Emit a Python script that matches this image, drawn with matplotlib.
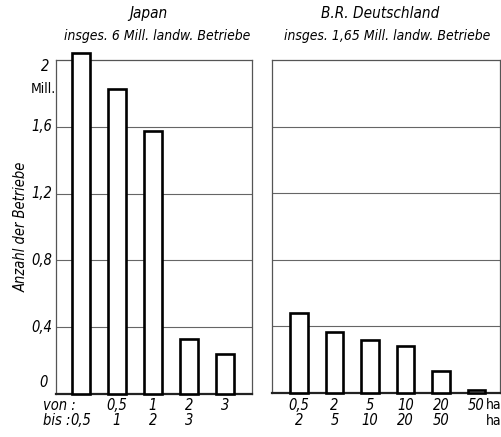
import matplotlib
matplotlib.use("Agg")
import matplotlib.pyplot as plt
from matplotlib.transforms import blended_transform_factory

plt.rcParams['font.family'] = ['DejaVu Sans']
plt.rcParams['font.style'] = 'italic'
plt.rcParams['font.stretch'] = 'condensed'

# size classes (ha) and number of farms (Mill.)
jp_von = ["", "0,5", "1", "2", "3"]
jp_bis = ["0,5", "1", "2", "3", ""]
jp_values = [2.04, 1.83, 1.575, 0.33, 0.24]

de_von = ["0,5", "2", "5", "10", "20", "50"]
de_bis = ["2", "5", "10", "20", "50", ""]
de_values = [0.48, 0.365, 0.32, 0.28, 0.13, 0.02]

y_ticks = [0.4, 0.8, 1.2, 1.6]
y_labels = ["0,4", "0,8", "1,2", "1,6"]

fig = plt.figure(figsize=(5.02, 4.37), dpi=100)
ax1 = fig.add_axes([0.1116, 0.0984, 0.390, 0.764])
ax2 = fig.add_axes([0.542, 0.1007, 0.454, 0.762])


def panel(ax, values, von, bis, xlim):
    x = list(range(len(values)))
    ax.bar(x, values, width=0.5, color="white", edgecolor="black",
           linewidth=1.9, clip_on=False, zorder=3)
    ax.set_xlim(*xlim)
    ax.set_ylim(0, 2)
    for t in y_ticks:
        ax.axhline(t, color="#666666", linewidth=0.8, zorder=1)
    for s in ["left", "right", "top"]:
        ax.spines[s].set_color("#555555")
        ax.spines[s].set_linewidth(0.9)
    ax.spines["bottom"].set_color("#222222")
    ax.spines["bottom"].set_linewidth(1.6)
    ax.set_xticks([])
    ax.set_yticks([])
    tr = blended_transform_factory(ax.transData, fig.transFigure)
    for i in x:
        ax.text(i, 0.073, von[i], transform=tr, ha="center", va="center", fontsize=10.5)
        ax.text(i, 0.037, bis[i], transform=tr, ha="center", va="center", fontsize=10.5)


panel(ax1, jp_values, jp_von, jp_bis, (-0.69, 4.75))
panel(ax2, de_values, de_von, de_bis, (-0.76, 5.66))

# y axis labels on the left panel
ty = blended_transform_factory(ax1.transAxes, ax1.transData)
for t, lab in zip(y_ticks, y_labels):
    ax1.text(-0.075, t, lab, transform=ty, ha="center", va="center", fontsize=10.5)
ax1.text(-0.055, 1.96, "2", transform=ty, ha="center", va="center", fontsize=10.5)
ax1.text(-0.065, 1.83, "Mill.", transform=ty, ha="center", va="center",
         fontsize=10, style="normal")
ax1.text(-0.065, 0.07, "0", transform=ty, ha="center", va="center", fontsize=10.5)
ax1.text(-0.18, 1.0, "Anzahl der Betriebe", transform=ty, rotation=90,
         ha="center", va="center", fontsize=10.5)

fig.text(0.085, 0.073, "von :", ha="left", va="center", fontsize=10.5)
fig.text(0.085, 0.037, "bis :", ha="left", va="center", fontsize=10.5)
fig.text(0.968, 0.073, "ha", ha="left", va="center", fontsize=10, style="normal")
fig.text(0.968, 0.037, "ha", ha="left", va="center", fontsize=10, style="normal")

fig.text(0.295, 0.968, "Japan", ha="center", va="center", fontsize=11)
fig.text(0.313, 0.917, "insges. 6 Mill. landw. Betriebe", ha="center",
         va="center", fontsize=10)
fig.text(0.757, 0.968, "B.R. Deutschland", ha="center", va="center", fontsize=11)
fig.text(0.771, 0.917, "insges. 1,65 Mill. landw. Betriebe", ha="center",
         va="center", fontsize=10)

fig.savefig("out.png", dpi=100)
